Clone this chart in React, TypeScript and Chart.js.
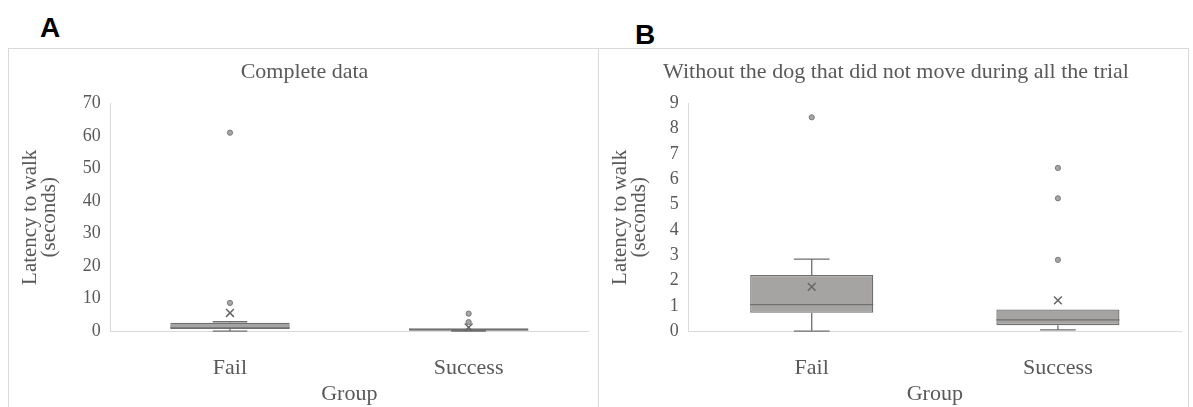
import React, { useEffect, useRef } from "react";
import { Chart, registerables } from "chart.js";

Chart.register(...registerables);

const categories = ["Fail", "Success"];

// Panel A: complete data
const titleA = "Complete data";
const aMin = [0, 0.05];
const aQ1 = [0.7, 0.2];
const aMedian = [1.0, 0.4];
const aQ3 = [2.6, 0.9];
const aMax = [2.9, 0.9];
const aMean = [5.6, 1.2];
const aOutFail = [8.7, 61];
const aOutSuccess = [2.8, 5.4];
const aTicks = [0, 10, 20, 30, 40, 50, 60, 70];

// Panel B: without the dog that did not move
const titleB = "Without the dog that did not move during all the trial";
const bMin = [0, 0.05];
const bQ1 = [0.73, 0.24];
const bMedian = [1.05, 0.45];
const bQ3 = [2.22, 0.86];
const bMax = [2.85, 0.86];
const bMean = [1.75, 1.22];
const bOutFail = [8.45];
const bOutSuccess = [2.82, 5.25, 6.45];
const bTicks = [0, 1, 2, 3, 4, 5, 6, 7, 8, 9];

const yTitle = ["Latency to walk", "(seconds)"];
const xTitle = "Group";

const TEXT = "#595959";
const AXIS = "#d9d9d9";
const BOX_FILL = "#a6a4a3";
const BOX_LINE = "#6f6f6f";
const FONT = "'Liberation Serif', 'Times New Roman', serif";

type BoxSpec = {
  title: string;
  min: number[];
  q1: number[];
  median: number[];
  q3: number[];
  max: number[];
  mean: number[];
  outFail: number[];
  outSuccess: number[];
  ticks: number[];
  yTitlePad: number;
  rightPad: number;
};

const boxPlugin = {
  id: "boxWhiskers",
  afterDatasetDraw(chart: any, args: any) {
    const ds = chart.data.datasets[args.index];
    if (!ds || !ds.isBox) return;
    const spec: BoxSpec = ds.spec;
    const meta = chart.getDatasetMeta(args.index);
    const y = chart.scales.y;
    const ctx = chart.ctx;
    ctx.save();
    ctx.strokeStyle = BOX_LINE;
    ctx.lineWidth = 1.3;
    meta.data.forEach((bar: any, i: number) => {
      const x = bar.x;
      const w = bar.width;
      const cap = w * 0.29;
      const yMin = y.getPixelForValue(spec.min[i]);
      const yQ1 = y.getPixelForValue(spec.q1[i]);
      const yQ3 = y.getPixelForValue(spec.q3[i]);
      const yMax = y.getPixelForValue(spec.max[i]);
      const yMed = y.getPixelForValue(spec.median[i]);
      ctx.beginPath();
      ctx.moveTo(x, yQ1);
      ctx.lineTo(x, yMin);
      ctx.moveTo(x - cap / 2, yMin);
      ctx.lineTo(x + cap / 2, yMin);
      if (spec.max[i] > spec.q3[i]) {
        ctx.moveTo(x, yQ3);
        ctx.lineTo(x, yMax);
        ctx.moveTo(x - cap / 2, yMax);
        ctx.lineTo(x + cap / 2, yMax);
      }
      ctx.moveTo(x - w / 2, yMed);
      ctx.lineTo(x + w / 2, yMed);
      ctx.stroke();
    });
    ctx.restore();
  },
};

function makeConfig(spec: BoxSpec): any {
  const outliers = [
    ...spec.outFail.map((v) => ({ x: categories[0], y: v })),
    ...spec.outSuccess.map((v) => ({ x: categories[1], y: v })),
  ];
  const means = spec.mean.map((v, i) => ({ x: categories[i], y: v }));
  const yMax = spec.ticks[spec.ticks.length - 1];
  return {
    type: "bar",
    data: {
      labels: categories,
      datasets: [
        {
          type: "scatter",
          data: means,
          pointStyle: "crossRot",
          radius: 5.5,
          borderColor: "#666666",
          borderWidth: 1.5,
          order: 1,
        },
        {
          type: "scatter",
          data: outliers,
          pointStyle: "circle",
          radius: 2.6,
          backgroundColor: "#a5a5a5",
          borderColor: "#7a7a7a",
          borderWidth: 1,
          order: 1,
        },
        {
          type: "bar",
          isBox: true,
          spec,
          data: spec.q1.map((v, i) => [v, spec.q3[i]]),
          backgroundColor: BOX_FILL,
          borderColor: BOX_LINE,
          borderWidth: 1.3,
          borderSkipped: false,
          barPercentage: 0.5,
          categoryPercentage: 1,
          order: 2,
        },
      ],
    },
    options: {
      responsive: false,
      maintainAspectRatio: false,
      animation: false,
      layout: { padding: { left: 12, right: spec.rightPad, top: 0, bottom: 0 } },
      plugins: {
        legend: { display: false },
        tooltip: { enabled: false },
        title: {
          display: true,
          text: spec.title,
          color: TEXT,
          font: { family: FONT, size: 22, weight: "normal", lineHeight: 1.2 },
          padding: { top: 10, bottom: 18 },
        },
      },
      scales: {
        x: {
          type: "category",
          offset: true,
          grid: { display: false, drawTicks: false },
          border: { display: true, color: AXIS, width: 1 },
          ticks: {
            color: TEXT,
            font: { family: FONT, size: 22, lineHeight: 1.2 },
            padding: 24,
          },
          title: {
            display: true,
            text: xTitle,
            color: TEXT,
            font: { family: FONT, size: 22, lineHeight: 1.2 },
            padding: { top: -25, bottom: 0 },
          },
        },
        y: {
          min: 0,
          max: yMax,
          afterBuildTicks: (scale: any) => {
            scale.ticks = spec.ticks.map((v) => ({ value: v }));
          },
          grid: { display: false, drawTicks: false },
          border: { display: true, color: AXIS, width: 1 },
          ticks: {
            color: TEXT,
            font: { family: FONT, size: 18 },
            padding: 10,
            autoSkip: false,
          },
          title: {
            display: true,
            text: yTitle,
            color: TEXT,
            font: { family: FONT, size: 21, lineHeight: 0.92 },
            padding: { top: 0, bottom: spec.yTitlePad },
          },
        },
      },
    },
    plugins: [boxPlugin],
  };
}

function BoxChart({ spec, width, height }: { spec: BoxSpec; width: number; height: number }) {
  const ref = useRef<HTMLCanvasElement>(null);
  useEffect(() => {
    if (!ref.current) return;
    const chart = new Chart(ref.current, makeConfig(spec));
    return () => chart.destroy();
  }, [spec, width, height]);
  return <canvas ref={ref} width={width} height={height} style={{ display: "block" }} />;
}

const specA: BoxSpec = {
  title: titleA,
  min: aMin,
  q1: aQ1,
  median: aMedian,
  q3: aQ3,
  max: aMax,
  mean: aMean,
  outFail: aOutFail,
  outSuccess: aOutSuccess,
  ticks: aTicks,
  yTitlePad: 13,
  rightPad: 10,
};

const specB: BoxSpec = {
  title: titleB,
  min: bMin,
  q1: bQ1,
  median: bMedian,
  q3: bQ3,
  max: bMax,
  mean: bMean,
  outFail: bOutFail,
  outSuccess: bOutSuccess,
  ticks: bTicks,
  yTitlePad: 10,
  rightPad: 7,
};

export default function App() {
  const panelStyle = (left: number, width: number): React.CSSProperties => ({
    position: "absolute",
    left,
    top: 48,
    width,
    height: 380,
    border: "1px solid #d9d9d9",
    boxSizing: "border-box",
    background: "#fff",
  });
  const letter: React.CSSProperties = {
    position: "absolute",
    fontFamily: "'Liberation Sans', Arial, sans-serif",
    fontWeight: "bold",
    fontSize: 28,
    lineHeight: "30px",
    color: "#000",
  };
  return (
    <div
      style={{
        position: "fixed",
        left: 0,
        top: 0,
        width: 1193,
        height: 407,
        overflow: "hidden",
        background: "#fff",
      }}
    >
      <div style={{ ...letter, left: 40, top: 13 }}>A</div>
      <div style={{ ...letter, left: 635, top: 20 }}>B</div>
      <div style={panelStyle(8, 591)}>
        <BoxChart spec={specA} width={589} height={358} />
      </div>
      <div style={panelStyle(598, 591)}>
        <BoxChart spec={specB} width={589} height={358} />
      </div>
    </div>
  );
}
